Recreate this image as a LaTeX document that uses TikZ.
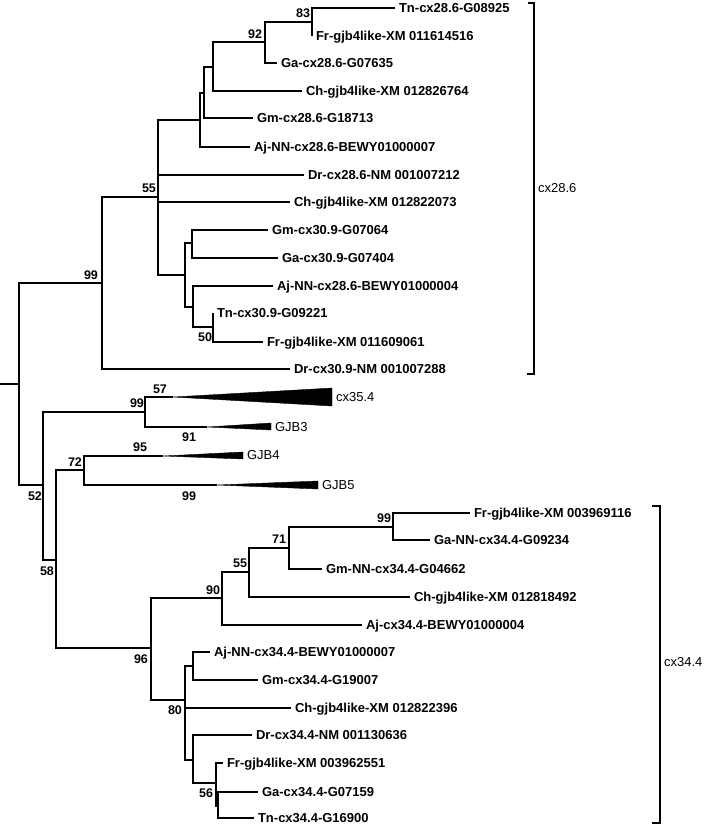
\documentclass[tikz,border=0pt]{standalone}
\usepackage{fontspec}
\setmainfont{Liberation Sans}
\begin{document}
\begin{tikzpicture}[x=1pt,y=-1pt,line width=1.1pt,
  leaf/.style={anchor=west,inner xsep=3.5pt,inner ysep=0pt,font=\fontsize{13}{13}\selectfont\bfseries,text height=9.3pt,text depth=0pt},
  grp/.style={anchor=west,inner xsep=3.5pt,inner ysep=0pt,font=\fontsize{13}{13}\selectfont,text height=9.3pt,text depth=0pt},
  boot/.style={inner sep=0pt,font=\fontsize{12.5}{12.5}\selectfont\bfseries},
  tri/.style={fill=black,draw=black,line width=0.4pt,line join=miter}]
\useasboundingbox (0,0) rectangle (709,827);
% ---------- internal nodes, upper clade
\coordinate (r0) at (0,384);
\coordinate (root) at (19,384);
\coordinate (nH) at (102,283);
\coordinate (n55a) at (158,197);
\coordinate (nE) at (200,120);
\coordinate (nD) at (204,93);
\coordinate (nC) at (213,67);
\coordinate (n92) at (265,42);
\coordinate (n83) at (312,22);
\coordinate (nG) at (185,275);
\coordinate (nG1) at (192,243);
\coordinate (nG2) at (193,307);
\coordinate (n50) at (213,327);
% ---------- leaves, upper clade
\node[leaf] (L1) at (395,8) {Tn-cx28.6-G08925};
\node[leaf] (L2) at (312,36) {Fr-gjb4like-XM 011614516};
\node[leaf] (L3) at (277,63) {Ga-cx28.6-G07635};
\node[leaf] (L4) at (302,91) {Ch-gjb4like-XM 012826764};
\node[leaf] (L5) at (253,118) {Gm-cx28.6-G18713};
\node[leaf] (L6) at (250,147) {Aj-NN-cx28.6-BEWY01000007};
\node[leaf] (L7) at (304,175) {Dr-cx28.6-NM 001007212};
\node[leaf] (L8) at (290,202) {Ch-gjb4like-XM 012822073};
\node[leaf] (L9) at (268,230) {Gm-cx30.9-G07064};
\node[leaf] (L10) at (278,258) {Ga-cx30.9-G07404};
\node[leaf] (L11) at (273,286) {Aj-NN-cx28.6-BEWY01000004};
\node[leaf] (L12) at (213,313) {Tn-cx30.9-G09221};
\node[leaf] (L13) at (263,342) {Fr-gjb4like-XM 011609061};
\node[leaf] (L14) at (290,369) {Dr-cx30.9-NM 001007288};
% ---------- internal nodes, lower clade
\coordinate (nI) at (43,485);
\coordinate (nJ) at (145,412);
\coordinate (nK) at (56,560);
\coordinate (nL) at (84,470);
\coordinate (nM) at (151,648);
\coordinate (nN) at (222,598);
\coordinate (nO) at (249,572);
\coordinate (nP) at (289,548);
\coordinate (nQ) at (393,527);
\coordinate (nR) at (185,700);
\coordinate (nS) at (193,666);
\coordinate (nT) at (193,760);
\coordinate (nU) at (216,783);
\coordinate (nV) at (218,806);
% collapsed clades
\coordinate (t1) at (173,397);
\coordinate (t1a) at (332,388);
\coordinate (t1b) at (332,406);
\coordinate (t2) at (207,427);
\coordinate (t2a) at (271,423);
\coordinate (t2b) at (271,430);
\coordinate (t3) at (163,456);
\coordinate (t3a) at (243,452);
\coordinate (t3b) at (243,459);
\coordinate (t4) at (217,485);
\coordinate (t4a) at (318,481);
\coordinate (t4b) at (318,489);
\node[grp] (G1) at (332,397) {cx35.4};
\node[grp] (G2) at (271,427) {GJB3};
\node[grp] (G3) at (243,455) {GJB4};
\node[grp] (G4) at (318,485) {GJB5};
% ---------- leaves, lower clade
\node[leaf] (M1) at (470,513) {Fr-gjb4like-XM 003969116};
\node[leaf] (M2) at (430,540) {Ga-NN-cx34.4-G09234};
\node[leaf] (M3) at (322,569) {Gm-NN-cx34.4-G04662};
\node[leaf] (M4) at (410,597) {Ch-gjb4like-XM 012818492};
\node[leaf] (M5) at (362,625) {Aj-cx34.4-BEWY01000004};
\node[leaf] (M6) at (210,652) {Aj-NN-cx34.4-BEWY01000007};
\node[leaf] (M7) at (258,680) {Gm-cx34.4-G19007};
\node[leaf] (M8) at (291,708) {Ch-gjb4like-XM 012822396};
\node[leaf] (M9) at (252,735) {Dr-cx34.4-NM 001130636};
\node[leaf] (M10) at (223,763) {Fr-gjb4like-XM 003962551};
\node[leaf] (M11) at (258,792) {Ga-cx34.4-G07159};
\node[leaf] (M12) at (254,818) {Tn-cx34.4-G16900};
% ---------- branches, upper
\draw (r0) -- (root);
\draw (root) |- (nH); \draw (root) |- (nI);
\draw (nH) |- (n55a); \draw (nH) |- (L14.west);
\draw (n55a) |- (nE); \draw (n55a) |- (L7.west); \draw (n55a) |- (L8.west); \draw (n55a) |- (nG);
\draw (nE) |- (nD); \draw (nE) |- (L6.west);
\draw (nD) |- (nC); \draw (nD) |- (L5.west);
\draw (nC) |- (n92); \draw (nC) |- (L4.west);
\draw (n92) |- (n83); \draw (n92) |- (L3.west);
\draw (n83) |- (L1.west); \draw (n83) |- (L2.west);
\draw (nG) |- (nG1); \draw (nG) |- (nG2);
\draw (nG1) |- (L9.west); \draw (nG1) |- (L10.west);
\draw (nG2) |- (L11.west); \draw (nG2) |- (n50);
\draw (n50) |- (L12.west); \draw (n50) |- (L13.west);
% ---------- branches, lower
\draw (nI) |- (nJ); \draw (nI) |- (nK);
\draw (nJ) |- (t1); \draw (nJ) |- (t2);
\draw (nK) |- (nL); \draw (nK) |- (nM);
\draw (nL) |- (t3); \draw (nL) |- (t4);
\fill[tri] (t1) -- (t1a) -- (t1b) -- cycle;
\fill[tri] (t2) -- (t2a) -- (t2b) -- cycle;
\fill[tri] (t3) -- (t3a) -- (t3b) -- cycle;
\fill[tri] (t4) -- (t4a) -- (t4b) -- cycle;
\draw (nM) |- (nN); \draw (nM) |- (nR);
\draw (nN) |- (nO); \draw (nN) |- (M5.west);
\draw (nO) |- (nP); \draw (nO) |- (M4.west);
\draw (nP) |- (nQ); \draw (nP) |- (M3.west);
\draw (nQ) |- (M1.west); \draw (nQ) |- (M2.west);
\draw (nR) |- (nS); \draw (nR) |- (M8.west); \draw (nR) |- (nT);
\coordinate (k1) at (185,707);
\coordinate (k2) at (185,733);
\draw[line width=2.2pt] (k1) -- (k2);
\draw (nS) |- (M6.west); \draw (nS) |- (M7.west);
\draw (nT) |- (M9.west); \draw (nT) |- (nU);
\draw (nU) |- (M10.west); \draw (nU) |- (nV);
\draw (nV) |- (M11.west); \draw (nV) |- (M12.west);
% ---------- bootstrap values
\node[boot] (b1) at (303,13) {83};
\node[boot] (b2) at (255,34) {92};
\node[boot] (b3) at (149,188) {55};
\node[boot] (b4) at (91,275) {99};
\node[boot] (b5) at (205,337) {50};
\node[boot] (b6) at (160,389) {57};
\node[boot] (b7) at (137,403) {99};
\node[boot] (b8) at (189,437) {91};
\node[boot] (b9) at (140,447) {95};
\node[boot] (b10) at (75,462) {72};
\node[boot] (b11) at (189,496) {99};
\node[boot] (b12) at (35,496) {52};
\node[boot] (b13) at (47,571) {58};
\node[boot] (b14) at (279,539) {71};
\node[boot] (b15) at (240,563) {55};
\node[boot] (b16) at (213,590) {90};
\node[boot] (b17) at (384,518) {99};
\node[boot] (b18) at (141,659) {96};
\node[boot] (b19) at (175,710) {80};
\node[boot] (b20) at (206,793) {56};
% ---------- brackets
\coordinate (a1) at (528,3);
\coordinate (a2) at (534,3);
\coordinate (a3) at (534,374);
\coordinate (a4) at (527,374);
\draw (a1) -- (a2) -- (a3) -- (a4);
\node[grp] (g1) at (534,188) {cx28.6};
\coordinate (c1) at (652,506);
\coordinate (c2) at (660,506);
\coordinate (c3) at (660,823);
\coordinate (c4) at (652,823);
\draw (c1) -- (c2) -- (c3) -- (c4);
\node[grp] (g2) at (660,662) {cx34.4};
\end{tikzpicture}
\end{document}
